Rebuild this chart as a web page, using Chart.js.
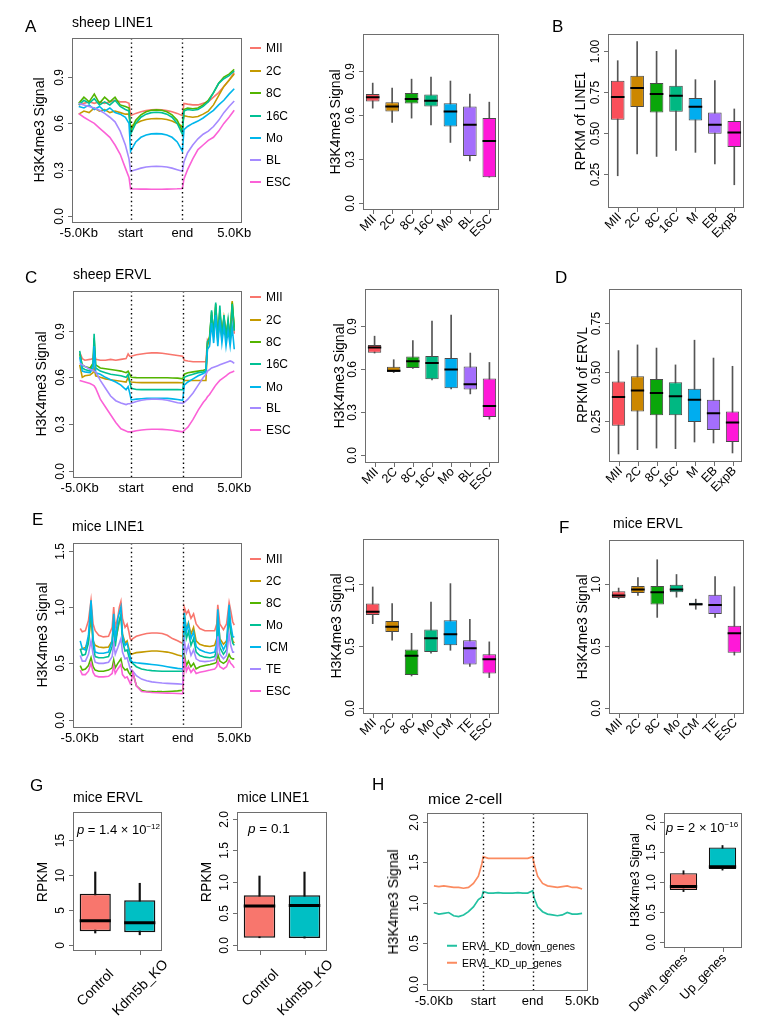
<!DOCTYPE html>
<html><head><meta charset="utf-8">
<script src="https://cdn.jsdelivr.net/npm/chart.js@4.4.1/dist/chart.umd.min.js"></script>
<style>
html,body{margin:0;padding:0;background:#fff;}
#wrap{position:relative;width:771px;height:1035px;overflow:hidden;font-family:"Liberation Sans",Arial,sans-serif;color:#000;}
canvas{position:absolute;left:0;top:0;}
.t{position:absolute;white-space:nowrap;line-height:1;transform:translateY(-50%);}
.r{position:absolute;white-space:nowrap;line-height:1;transform:translate(-50%,-50%) rotate(-90deg);}
.lg b{display:inline-block;width:11px;height:2px;vertical-align:middle;margin-right:5px;position:relative;top:-1px;}
sup{font-size:0.62em;vertical-align:0.55em;line-height:0;}
</style></head>
<body><div id="wrap"></div>
<script>
// ---------------- DATA ----------------
const PROFILE_TICKS = [0, 1, 2, 3];
const PROFILE_LABELS = ['-5.0Kb', 'start', 'end', '5.0Kb'];
const Y_TICKS_03 = [0, 0.3, 0.6, 0.9];
const Y_LABELS_03 = ['0.0', '0.3', '0.6', '0.9'];
const Y_TICKS_05 = [0, 0.5, 1.0, 1.5];
const Y_LABELS_05 = ['0.0', '0.5', '1.0', '1.5'];
const Y_TICKS_EF = [0, 0.5, 1.0];
const Y_LABELS_EF = ['0.0', '0.5', '1.0'];
const Y_TICKS_B = [0.25, 0.5, 0.75, 1.0];
const Y_LABELS_B = ['0.25', '0.50', '0.75', '1.00'];
const Y_TICKS_D = [0.25, 0.5, 0.75];
const Y_LABELS_D = ['0.25', '0.50', '0.75'];
const Y_TICKS_G1 = [0, 5, 10, 15];
const Y_LABELS_G1 = ['0', '5', '10', '15'];
const Y_TICKS_2 = [0, 0.5, 1.0, 1.5, 2.0];
const Y_LABELS_2 = ['0.0', '0.5', '1.0', '1.5', '2.0'];

const sheepStages = ['MII', '2C', '8C', '16C', 'Mo', 'BL', 'ESC'];
const sheepRPKMStages = ['MII', '2C', '8C', '16C', 'M', 'EB', 'ExpB'];
const miceStages = ['MII', '2C', '8C', 'Mo', 'ICM', 'TE', 'ESC'];
const kdCats = ['Control', 'Kdm5b_KO'];
const hCats = ['Down_genes', 'Up_genes'];
const hSeries = ['ERVL_KD_down_genes', 'ERVL_KD_up_genes'];

// Panel A profile (sheep LINE1)
const XA = [0,0.1,0.2,0.3,0.4,0.5,0.6,0.7,0.8,0.9,0.97,1.0,1.1,1.2,1.3,1.4,1.5,1.6,1.7,1.8,1.9,2.0,2.03,2.1,2.2,2.3,2.4,2.5,2.6,2.7,2.8,2.9,3.0];
const A_MII = [0.72,0.73,0.74,0.73,0.74,0.73,0.74,0.75,0.74,0.74,0.73,0.65, 0.665,0.675,0.683,0.688,0.69,0.688,0.683,0.675,0.665,0.65, 0.73,0.725,0.72,0.72,0.73,0.74,0.77,0.80,0.84,0.88,0.93];
const A_2C  = [0.66,0.68,0.67,0.70,0.68,0.69,0.67,0.68,0.67,0.66,0.66,0.58, 0.60,0.615,0.625,0.63,0.632,0.63,0.625,0.615,0.60,0.58, 0.65,0.645,0.64,0.645,0.66,0.68,0.72,0.78,0.84,0.88,0.92];
const A_8C  = [0.73,0.77,0.74,0.79,0.73,0.77,0.74,0.77,0.72,0.71,0.70,0.55, 0.62,0.655,0.675,0.685,0.688,0.685,0.675,0.655,0.62,0.55, 0.69,0.70,0.695,0.70,0.72,0.75,0.80,0.86,0.90,0.92,0.95];
const A_16C = [0.72,0.75,0.73,0.76,0.72,0.74,0.72,0.75,0.71,0.69,0.68,0.53, 0.60,0.64,0.66,0.67,0.672,0.67,0.66,0.64,0.60,0.53, 0.68,0.69,0.685,0.69,0.71,0.74,0.80,0.86,0.89,0.91,0.94];
const A_Mo  = [0.71,0.70,0.72,0.69,0.71,0.68,0.70,0.67,0.66,0.64,0.60,0.42, 0.48,0.51,0.525,0.532,0.534,0.532,0.525,0.51,0.48,0.42, 0.56,0.58,0.60,0.615,0.635,0.66,0.685,0.72,0.75,0.79,0.825];
const A_BL  = [0.73,0.72,0.71,0.70,0.685,0.665,0.64,0.61,0.55,0.46,0.37,0.29, 0.30,0.31,0.317,0.32,0.322,0.32,0.317,0.31,0.30,0.29, 0.35,0.41,0.46,0.50,0.53,0.55,0.58,0.62,0.67,0.71,0.745];
const A_ESC = [0.663,0.64,0.62,0.60,0.57,0.54,0.51,0.46,0.40,0.31,0.25,0.175, 0.175,0.174,0.174,0.173,0.173,0.173,0.174,0.175,0.176,0.178, 0.24,0.30,0.37,0.43,0.46,0.49,0.51,0.55,0.60,0.64,0.685];

// Panel C profile (sheep ERVL)
const XC = [0,0.05,0.1,0.2,0.26,0.28,0.31,0.4,0.5,0.6,0.7,0.8,0.9,0.94,0.97, 1.0,1.1,1.2,1.3,1.4,1.5,1.6,1.7,1.8,1.9,2.0, 2.03,2.1,2.2,2.3,2.4,2.45,2.48,2.52,2.56,2.6,2.64,2.68,2.72,2.76,2.8,2.84,2.88,2.92,2.96,3.0];
const C_MII = [0.76,0.72,0.71,0.715,0.72,0.78,0.715,0.71,0.71,0.715,0.71,0.715,0.72,0.75,0.735, 0.735,0.745,0.75,0.755,0.757,0.757,0.755,0.75,0.745,0.74,0.735, 0.71,0.705,0.70,0.70,0.70,0.70,0.84,0.82,0.95,0.90,1.0,0.85,1.0,0.88,0.97,0.87,0.92,0.85,1.03,0.88];
const C_2C  = [0.68,0.60,0.61,0.615,0.63,0.66,0.61,0.60,0.59,0.585,0.58,0.575,0.57,0.60,0.575, 0.57,0.567,0.566,0.566,0.566,0.566,0.566,0.566,0.566,0.566,0.565, 0.58,0.58,0.58,0.58,0.58,0.58,0.80,0.85,1.0,0.88,1.05,0.85,1.02,0.86,0.98,0.88,0.95,0.86,1.09,0.90];
const C_8C  = [0.75,0.68,0.67,0.66,0.69,0.85,0.68,0.66,0.655,0.65,0.645,0.64,0.63,0.64,0.62, 0.60,0.598,0.597,0.597,0.597,0.597,0.597,0.597,0.596,0.595,0.59, 0.62,0.63,0.635,0.64,0.645,0.65,0.82,0.86,1.02,0.87,1.07,0.84,1.03,0.85,0.99,0.86,0.96,0.85,1.08,0.92];
const C_16C = [0.77,0.66,0.65,0.64,0.68,0.88,0.66,0.64,0.63,0.62,0.615,0.61,0.60,0.62,0.57, 0.53,0.522,0.521,0.521,0.521,0.521,0.521,0.521,0.521,0.521,0.52, 0.60,0.61,0.62,0.63,0.635,0.64,0.83,0.84,1.03,0.86,1.08,0.83,1.06,0.84,1.0,0.85,0.97,0.84,1.07,0.90];
const C_Mo  = [0.73,0.64,0.635,0.63,0.66,0.80,0.63,0.62,0.60,0.585,0.57,0.55,0.52,0.54,0.50, 0.455,0.46,0.463,0.465,0.466,0.466,0.466,0.465,0.462,0.458,0.452, 0.55,0.57,0.59,0.61,0.625,0.635,0.78,0.80,0.95,0.82,1.0,0.80,0.97,0.82,0.93,0.80,0.90,0.80,0.92,0.78];
const C_BL  = [0.69,0.68,0.67,0.65,0.645,0.64,0.635,0.58,0.53,0.48,0.45,0.435,0.425,0.43,0.43, 0.433,0.445,0.453,0.458,0.46,0.46,0.458,0.453,0.445,0.437,0.433, 0.44,0.46,0.50,0.55,0.60,0.62,0.64,0.65,0.66,0.665,0.67,0.675,0.68,0.685,0.69,0.695,0.70,0.705,0.70,0.69];
const C_ESC = [0.58,0.575,0.57,0.56,0.55,0.545,0.53,0.46,0.41,0.36,0.31,0.27,0.255,0.25,0.25, 0.25,0.257,0.262,0.265,0.267,0.267,0.266,0.264,0.26,0.255,0.25, 0.26,0.28,0.33,0.39,0.44,0.46,0.475,0.49,0.51,0.53,0.55,0.565,0.58,0.59,0.60,0.61,0.62,0.63,0.635,0.64];

// Panel E profile (mice LINE1)
const XE = [0.01,0.05,0.11,0.17,0.22,0.26,0.3,0.37,0.46,0.56,0.63,0.66,0.69,0.74,0.77,0.8,0.83,0.88,0.92,0.95,0.98, 1.0,1.03,1.1,1.2,1.3,1.4,1.5,1.6,1.7,1.8,1.9,2.0, 2.03,2.07,2.11,2.16,2.21,2.26,2.33,2.43,2.53,2.62,2.66,2.68,2.72,2.79,2.85,2.9,2.93,2.97,3.0];
const E_MII = [0.81,0.78,0.79,0.88,1.06,0.85,0.79,0.75,0.735,0.74,0.82,1.0,0.82,0.91,1.0,1.05,0.9,0.82,0.85,0.79,0.72, 0.705,0.72,0.74,0.755,0.765,0.77,0.77,0.765,0.75,0.72,0.70,0.676, 1.0,0.94,0.97,0.9,0.94,0.85,0.81,0.79,0.79,0.79,0.85,1.02,0.85,0.80,0.85,1.04,0.97,0.87,0.84];
const E_2C  = [0.62,0.63,0.64,0.70,0.90,0.70,0.66,0.645,0.64,0.645,0.70,0.86,0.70,0.80,0.88,0.93,0.76,0.68,0.70,0.64,0.59, 0.58,0.585,0.595,0.60,0.605,0.61,0.61,0.605,0.60,0.59,0.575,0.563, 0.94,0.80,0.86,0.76,0.82,0.70,0.67,0.655,0.65,0.66,0.72,0.92,0.72,0.67,0.70,0.90,0.80,0.70,0.68];
const E_8C  = [0.48,0.44,0.45,0.48,0.55,0.47,0.44,0.43,0.43,0.44,0.46,0.53,0.46,0.50,0.52,0.54,0.47,0.44,0.45,0.42,0.40, 0.42,0.42,0.30,0.26,0.25,0.25,0.248,0.248,0.25,0.252,0.255,0.26, 0.58,0.48,0.52,0.47,0.50,0.45,0.47,0.48,0.49,0.50,0.51,0.58,0.52,0.50,0.52,0.58,0.55,0.54,0.54];
const E_Mo  = [0.63,0.57,0.58,0.68,1.02,0.66,0.56,0.55,0.55,0.56,0.65,0.88,0.65,0.82,0.88,0.93,0.70,0.61,0.62,0.57,0.52, 0.51,0.50,0.47,0.45,0.44,0.435,0.432,0.43,0.43,0.43,0.43,0.43, 0.90,0.72,0.78,0.66,0.72,0.60,0.57,0.555,0.55,0.56,0.62,0.90,0.64,0.58,0.62,0.92,0.78,0.68,0.66];
const E_ICM = [0.70,0.63,0.62,0.75,1.06,0.72,0.60,0.59,0.59,0.60,0.70,0.94,0.70,0.90,0.95,1.0,0.75,0.66,0.68,0.62,0.56, 0.52,0.51,0.505,0.50,0.495,0.49,0.485,0.478,0.47,0.462,0.455,0.45, 0.95,0.78,0.85,0.72,0.78,0.65,0.62,0.60,0.59,0.60,0.68,0.98,0.70,0.62,0.68,1.02,0.85,0.74,0.73];
const E_TE  = [0.57,0.52,0.52,0.58,0.70,0.58,0.51,0.50,0.50,0.51,0.56,0.68,0.58,0.64,0.68,0.72,0.60,0.54,0.55,0.50,0.45, 0.44,0.43,0.39,0.36,0.345,0.335,0.33,0.325,0.322,0.32,0.317,0.314, 0.70,0.60,0.66,0.57,0.62,0.54,0.52,0.515,0.52,0.53,0.57,0.74,0.58,0.54,0.57,0.76,0.66,0.60,0.60];
const E_ESC = [0.44,0.40,0.40,0.43,0.50,0.42,0.39,0.38,0.38,0.385,0.41,0.48,0.41,0.45,0.47,0.49,0.40,0.37,0.38,0.35,0.32, 0.33,0.42,0.30,0.25,0.245,0.24,0.238,0.236,0.235,0.234,0.232,0.23, 0.55,0.43,0.47,0.42,0.45,0.41,0.42,0.43,0.44,0.45,0.47,0.52,0.47,0.45,0.47,0.53,0.50,0.48,0.46];

// Panel H profile (mice 2-cell)
const XH = [0,0.1,0.2,0.3,0.4,0.5,0.6,0.7,0.8,0.9,0.97,1.0,1.1,1.2,1.3,1.4,1.5,1.6,1.7,1.8,1.9,2.0,2.03,2.1,2.2,2.3,2.4,2.5,2.6,2.7,2.8,2.9,3.0];
const H_down = [0.88,0.86,0.87,0.88,0.84,0.83,0.85,0.89,0.95,1.04,1.07,1.14, 1.12,1.12,1.125,1.12,1.12,1.12,1.125,1.12,1.12,1.15, 1.06,0.95,0.89,0.86,0.85,0.84,0.85,0.88,0.86,0.86,0.87];
const H_up   = [1.21,1.20,1.21,1.20,1.19,1.19,1.18,1.19,1.24,1.33,1.48,1.57, 1.55,1.55,1.55,1.55,1.55,1.55,1.55,1.55,1.55,1.57, 1.48,1.33,1.24,1.21,1.20,1.19,1.20,1.21,1.19,1.19,1.17];

// Box plots: whisker low, Q1, median, Q3, whisker high
const A_lo  = [0.649,0.551,0.581,0.535,0.415,0.289,0.178];
const A_q1  = [0.695,0.626,0.681,0.661,0.524,0.323,0.178];
const A_med = [0.724,0.660,0.711,0.699,0.626,0.535,0.424];
const A_q3  = [0.745,0.690,0.752,0.743,0.683,0.661,0.581];
const A_hi  = [0.820,0.786,0.847,0.861,0.834,0.745,0.690];

const B_lo  = [0.240,0.373,0.358,0.395,0.383,0.312,0.185];
const B_q1  = [0.582,0.660,0.627,0.631,0.578,0.497,0.415];
const B_med = [0.721,0.776,0.739,0.729,0.662,0.552,0.505];
const B_q3  = [0.821,0.851,0.807,0.790,0.715,0.627,0.574];
const B_hi  = [0.943,1.059,1.000,1.010,0.827,0.821,0.648];

const Cb_lo  = [0.709,0.574,0.602,0.523,0.460,0.426,0.251];
const Cb_q1  = [0.712,0.577,0.605,0.528,0.465,0.456,0.265];
const Cb_med = [0.747,0.586,0.653,0.640,0.595,0.493,0.342];
const Cb_q3  = [0.765,0.614,0.686,0.688,0.674,0.616,0.533];
const Cb_hi  = [0.826,0.663,0.795,0.930,0.972,0.709,0.644];

const D_lo  = [0.082,0.104,0.112,0.109,0.143,0.138,0.087];
const D_q1  = [0.226,0.299,0.279,0.279,0.245,0.204,0.143];
const D_med = [0.372,0.406,0.393,0.376,0.359,0.289,0.243];
const D_q3  = [0.452,0.478,0.464,0.447,0.415,0.359,0.298];
const D_hi  = [0.609,0.638,0.622,0.536,0.662,0.571,0.529];

const Eb_lo  = [0.677,0.543,0.255,0.438,0.462,0.331,0.242];
const Eb_q1  = [0.747,0.610,0.263,0.449,0.503,0.347,0.274];
const Eb_med = [0.774,0.651,0.417,0.559,0.591,0.478,0.390];
const Eb_q3  = [0.839,0.699,0.468,0.629,0.704,0.543,0.430];
const Eb_hi  = [0.973,0.839,0.599,0.852,1.000,0.712,0.530];

const F_lo  = [0.883,0.910,0.732,0.896,0.798,0.732,0.426];
const F_q1  = [0.890,0.929,0.836,0.937,0.828,0.760,0.445];
const F_med = [0.910,0.959,0.937,0.959,0.839,0.833,0.604];
const F_q3  = [0.945,0.986,0.986,0.997,0.850,0.915,0.664];
const F_hi  = [0.970,1.055,1.200,1.080,0.880,1.063,0.981];

const G1_lo = [1.75,1.5], G1_q1 = [2.0,1.85], G1_med = [3.5,3.2], G1_q3 = [7.3,6.4], G1_hi = [10.4,8.8];
const G2_lo = [0.11,0.105], G2_q1 = [0.111,0.106], G2_med = [0.614,0.624], G2_q3 = [0.783,0.783], G2_hi = [1.09,1.153];
const Hb_lo = [0.843,1.20], Hb_q1 = [0.87,1.218], Hb_med = [0.926,1.256], Hb_q3 = [1.146,1.576], Hb_hi = [1.19,1.609];

// ---------------- STYLE ----------------
const LINE_COLORS = ['#F8766D','#C49A00','#53B400','#00C094','#00B6EB','#A58AFF','#FB61D7'];
const BOX_COLORS = ['#FA4F5A','#CC8700','#0AA60A','#00B882','#00ADEF','#A46EFC','#FF18D8'];
const PAIR_COLORS = ['#F8766D','#00BFC4'];
const H_LINE_COLORS = ['#22C1A1','#FB8B60'];
const W = 771, H = 1035;
const FONT = '"Liberation Sans", Arial, sans-serif';
const wrap = document.getElementById('wrap');

const rAxes = {
  id: 'rAxes',
  afterDatasetsDraw(chart, args, o) {
    if (!o.vlines) return;
    const {ctx, chartArea: a, scales: {x}} = chart;
    ctx.save();
    ctx.strokeStyle = '#000'; ctx.lineWidth = 1.4; ctx.setLineDash([1.4, 3]);
    o.vlines.forEach(v => {
      const px = Math.round(x.getPixelForValue(v)) + 0.5;
      ctx.beginPath(); ctx.moveTo(px, a.top); ctx.lineTo(px, a.bottom); ctx.stroke();
    });
    ctx.restore();
  },
  afterDraw(chart, args, o) {
    const {ctx, chartArea: a, scales: {x, y}} = chart;
    ctx.save();
    ctx.strokeStyle = o.boxColor || '#6e6e6e'; ctx.lineWidth = 1;
    ctx.strokeRect(Math.round(a.left) + 0.5, Math.round(a.top) + 0.5, Math.round(a.width) - 1, Math.round(a.height) - 1);
    ctx.fillStyle = '#000';
    ctx.font = (o.yFont || 12) + 'px ' + FONT;
    o.yTicks.forEach((v, i) => {
      const py = Math.round(y.getPixelForValue(v)) + 0.5;
      ctx.beginPath(); ctx.moveTo(a.left, py); ctx.lineTo(a.left - 4, py); ctx.stroke();
      ctx.save(); ctx.translate(a.left - 6, py); ctx.rotate(-Math.PI / 2);
      ctx.textAlign = 'center'; ctx.textBaseline = 'bottom';
      ctx.fillText(o.yLabels[i], 0, 0); ctx.restore();
    });
    ctx.font = (o.xFont || 12) + 'px ' + FONT;
    if (o.xTicks) {
      o.xTicks.forEach((v, i) => {
        ctx.textAlign = 'center'; ctx.textBaseline = 'top';
        ctx.fillText(o.xLabels[i], x.getPixelForValue(v), a.bottom + 4);
      });
    } else {
      chart.data.labels.forEach((l, i) => {
        const px = Math.round(x.getPixelForValue(i)) + 0.5;
        ctx.beginPath(); ctx.moveTo(px, a.bottom); ctx.lineTo(px, a.bottom + 4); ctx.stroke();
        ctx.save();
        if (o.xCenter) {
          ctx.translate(px, a.bottom + o.xOff); ctx.rotate(-Math.PI / 4);
          ctx.textAlign = 'center'; ctx.textBaseline = 'middle';
        } else {
          ctx.translate(px + 1, a.bottom + o.xOff); ctx.rotate(-Math.PI / 4);
          ctx.textAlign = 'right'; ctx.textBaseline = 'middle';
        }
        ctx.fillText(l, 0, 0); ctx.restore();
      });
    }
    ctx.restore();
  }
};

function mk(rect, config) {
  const c = document.createElement('canvas');
  c.width = W; c.height = H; c.style.width = W + 'px'; c.style.height = H + 'px';
  wrap.appendChild(c);
  config.options = Object.assign({
    responsive: false, animation: false, events: [],
    layout: {padding: {left: rect[0], top: rect[1], right: W - rect[2], bottom: H - rect[3]}}
  }, config.options);
  config.plugins = [rAxes];
  return new Chart(c, config);
}

function lineChart(rect, X, series, names, colors, xr, yr, yTicks, yLabels, lw) {
  return mk(rect, {
    type: 'line',
    data: {datasets: series.map((s, i) => ({
      label: names[i], data: X.map((xv, j) => ({x: xv, y: s[j]})),
      borderColor: colors[i], borderWidth: lw || 1.6, pointRadius: 0, tension: 0, order: -i
    }))},
    options: {
      scales: {x: {type: 'linear', display: false, min: xr[0], max: xr[1]}, y: {display: false, min: yr[0], max: yr[1]}},
      plugins: {legend: {display: false}, tooltip: {enabled: false},
        rAxes: {yTicks, yLabels, xTicks: PROFILE_TICKS, xLabels: PROFILE_LABELS, vlines: [1, 2], xFont: 13}}
    }
  });
}

function boxChart(rect, cats, lo, q1, med, q3, hi, colors, yr, yTicks, yLabels, st) {
  st = st || {};
  return mk(rect, {
    type: 'bar',
    data: {labels: cats, datasets: [
      {type: 'line', data: med, showLine: false, pointStyle: 'line',
       pointRadius: c => { const a = c.chart.chartArea; return a ? a.width / cats.length * 0.35 : 6; },
       borderColor: '#000', backgroundColor: '#000', pointBorderColor: '#000', pointBorderWidth: st.medW || 2},
      {data: q1.map((v, i) => [v, q3[i]]), backgroundColor: colors, borderColor: st.boxBorder || '#4a4a4a',
       borderWidth: st.boxW || 1, borderSkipped: false, barPercentage: 0.7, categoryPercentage: 1, grouped: false},
      {data: lo.map((v, i) => [v, hi[i]]), backgroundColor: st.whisk || '#555', barThickness: st.whiskW || 1,
       grouped: false, categoryPercentage: 1}
    ]},
    options: {
      scales: {x: {display: false}, y: {display: false, min: yr[0], max: yr[1]}},
      plugins: {legend: {display: false}, tooltip: {enabled: false},
        rAxes: {yTicks, yLabels, xOff: st.xOff || 7, xCenter: st.xCenter, xFont: st.xFont || 12.5}}
    }
  });
}

// ---------------- CHARTS ----------------
const XR = [-0.13, 3.15];
lineChart([72, 38, 242, 223], XA, [A_MII, A_2C, A_8C, A_16C, A_Mo, A_BL, A_ESC], sheepStages, LINE_COLORS, XR, [-0.046, 1.154], Y_TICKS_03, Y_LABELS_03);
lineChart([73, 291, 242, 478], XC, [C_MII, C_2C, C_8C, C_16C, C_Mo, C_BL, C_ESC], sheepStages, LINE_COLORS, XR, [-0.046, 1.154], Y_TICKS_03, Y_LABELS_03);
lineChart([73, 543, 242, 728], XE, [E_MII, E_2C, E_8C, E_Mo, E_ICM, E_TE, E_ESC], miceStages, LINE_COLORS, XR, [-0.075, 1.57], Y_TICKS_05, Y_LABELS_05);
lineChart([427, 813, 588, 991], XH, [H_down, H_up], hSeries, H_LINE_COLORS, [-0.14, 3.12], [-0.09, 2.11], Y_TICKS_2, Y_LABELS_2, 1.7);

boxChart([363, 34, 499, 210], sheepStages, A_lo, A_q1, A_med, A_q3, A_hi, BOX_COLORS, [-0.046, 1.155], Y_TICKS_03, Y_LABELS_03);
boxChart([608, 34, 744, 208], sheepRPKMStages, B_lo, B_q1, B_med, B_q3, B_hi, BOX_COLORS, [0.043, 1.106], Y_TICKS_B, Y_LABELS_B);
boxChart([365, 289, 499, 463], sheepStages, Cb_lo, Cb_q1, Cb_med, Cb_q3, Cb_hi, BOX_COLORS, [-0.053, 1.153], Y_TICKS_03, Y_LABELS_03);
boxChart([609, 289, 742, 462], sheepRPKMStages, D_lo, D_q1, D_med, D_q3, D_hi, BOX_COLORS, [0.041, 0.923], Y_TICKS_D, Y_LABELS_D);
boxChart([363, 539, 499, 714], miceStages, Eb_lo, Eb_q1, Eb_med, Eb_q3, Eb_hi, BOX_COLORS, [-0.052, 1.36], Y_TICKS_EF, Y_LABELS_EF);
boxChart([609, 540, 744, 714], miceStages, F_lo, F_q1, F_med, F_q3, F_hi, BOX_COLORS, [-0.052, 1.36], Y_TICKS_EF, Y_LABELS_EF);
const pairStyle = {boxBorder: '#111', boxW: 1.5, medW: 3, whisk: '#111', whiskW: 1.5, xCenter: true, xOff: 37, xFont: 14};
boxChart([73, 812, 162, 951], kdCats, G1_lo, G1_q1, G1_med, G1_q3, G1_hi, PAIR_COLORS, [-0.8, 18.9], Y_TICKS_G1, Y_LABELS_G1, pairStyle);
boxChart([237, 812, 327, 951], kdCats, G2_lo, G2_q1, G2_med, G2_q3, G2_hi, PAIR_COLORS, [-0.1, 2.106], Y_TICKS_2, Y_LABELS_2, pairStyle);
boxChart([664, 813, 742, 948], hCats, Hb_lo, Hb_q1, Hb_med, Hb_q3, Hb_hi, PAIR_COLORS, [-0.094, 2.149], Y_TICKS_2, Y_LABELS_2,
  {boxBorder: '#111', boxW: 1.2, medW: 3, whisk: '#111', whiskW: 1.2, xOff: 8, xFont: 13});

// ---------------- TEXT ----------------
function txt(html, x, y, size, cls, extra) {
  const d = document.createElement('div');
  d.className = cls || 't';
  d.style.left = x + 'px'; d.style.top = y + 'px'; d.style.fontSize = size + 'px';
  if (extra) d.style.cssText += extra;
  d.innerHTML = html;
  wrap.appendChild(d);
}
[['A',25,26],['B',552,26],['C',25,277],['D',555,277],['E',32,519],['F',559,527],['G',30,785],['H',372,784]]
  .forEach(p => txt(p[0], p[1], p[2], 17));
txt('sheep LINE1', 72, 22, 14);
txt('sheep ERVL', 73, 274, 14);
txt('mice LINE1', 72, 526, 14);
txt('mice ERVL', 613, 523, 14);
txt('mice ERVL', 73, 797, 14);
txt('mice LINE1', 237, 797, 14);
txt('mice 2-cell', 428, 799, 15.5);

const YT = 'H3K4me3 Signal';
[[39,130],[335,122],[41,384],[339,376],[42,635],[336,626],[582,627],[393,902]].forEach(p => txt(YT, p[0], p[1], 14, 'r'));
txt(YT, 635, 880, 12.5, 'r');
txt('RPKM of LINE1', 580, 121, 14, 'r');
txt('RPKM of ERVL', 582, 375, 14, 'r');
txt('RPKM', 42, 882, 14, 'r');
txt('RPKM', 206, 882, 14, 'r');

function legend(names, colors, x, ys, size, w) {
  names.forEach((n, i) => txt('<b style="background:' + colors[i] + ';width:' + w + 'px"></b>' + n, x, ys[i], size, 't lg'));
}
legend(sheepStages, LINE_COLORS, 250, [48, 71, 93, 116, 138, 160, 182], 12, 11);
legend(sheepStages, LINE_COLORS, 250, [297, 320, 342, 364, 387, 408, 430], 12, 11);
legend(miceStages, LINE_COLORS, 250, [559, 581, 603, 625, 647, 669, 691], 12, 11);
legend(hSeries, H_LINE_COLORS, 447, [946, 963], 10.5, 10);

txt('<i>p</i> = 1.4 × 10<sup>−12</sup>', 77, 829, 13);
txt('<i>p</i> = 0.1', 248, 829, 13.5);
txt('<i>p</i> = 2 × 10<sup>−16</sup>', 666, 827, 13);
</script>
</body></html>
